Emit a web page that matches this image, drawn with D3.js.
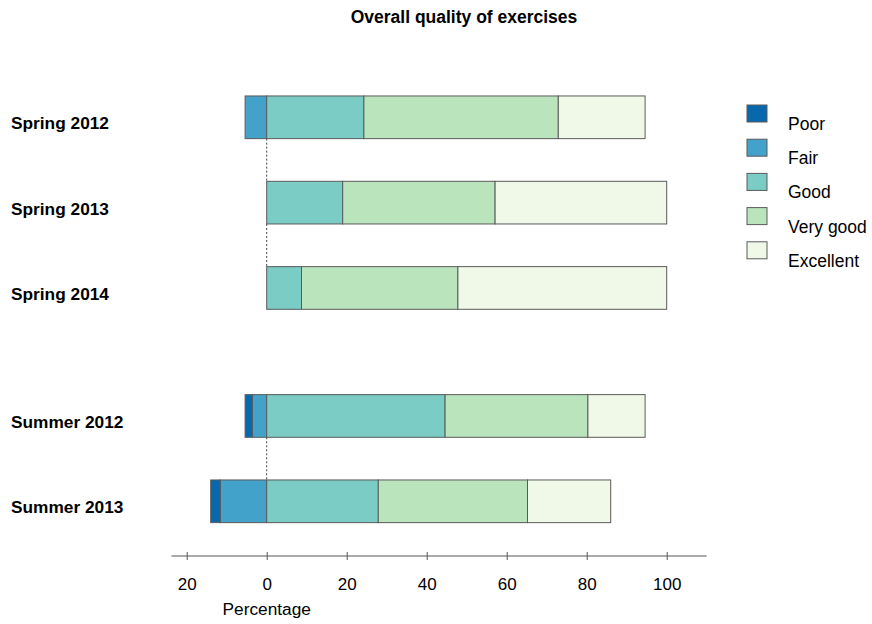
<!DOCTYPE html>
<html>
<head>
<meta charset="utf-8">
<script src="https://cdn.jsdelivr.net/npm/d3@7"></script>
<style>
  html, body { margin: 0; padding: 0; background: #ffffff; }
  svg { display: block; font-family: "Liberation Sans", Arial, Helvetica, sans-serif; }
</style>
</head>
<body>
<svg id="chart" width="872" height="624"></svg>
<script>
// ---- data ----
const categories = ["Spring 2012", "Spring 2013", "Spring 2014", "Summer 2012", "Summer 2013"];
const groups     = ["Spring", "Spring", "Spring", "Summer", "Summer"];
const levels     = ["Poor", "Fair", "Good", "Very good", "Excellent"];
const poor       = [0,    0,    0,    1.8,  2.4];
const fair       = [5.4,  0,    0,    3.6,  11.6];
const good       = [24.3, 19.0, 8.7,  44.6, 27.9];
const veryGood   = [48.6, 38.1, 39.1, 35.7, 37.3];
const excellent  = [21.7, 42.9, 52.2, 14.3, 20.8];
const tickValues = [-20, 0, 20, 40, 60, 80, 100];
const colors     = ["#0868ac", "#43a2ca", "#7bccc4", "#bae4bc", "#f0f9e8"];
const titleText  = "Overall quality of exercises";
const xLabel     = "Percentage";

// ---- layout ----
const svg = d3.select("#chart");
const x = d3.scaleLinear().domain([0, 100]).range([266.7, 666.7]);
const groupNames = Array.from(new Set(groups));
const slots = categories.map((c, i) => i + 0.5 * groupNames.indexOf(groups[i]));
const y = d3.scaleLinear().domain([0, 4.5]).range([117.3, 501.3]);
const barH = (y(1) - y(0)) * 0.5;
const color = d3.scaleOrdinal().domain(levels).range(colors);

// Build segments
const series = [poor, fair, good, veryGood, excellent];
const segs = [];
categories.forEach((c, i) => {
  let neg = 0;
  [1, 0].forEach(k => {
    const v = series[k][i];
    if (v > 0) segs.push({cat: i, level: levels[k], x0: -(neg + v), x1: -neg});
    neg += v;
  });
  let pos = 0;
  [2, 3, 4].forEach(k => {
    const v = series[k][i];
    if (v > 0) segs.push({cat: i, level: levels[k], x0: pos, x1: pos + v});
    pos += v;
  });
});

// dashed zero reference line between bars of the same group
const dashG = svg.append("g");
for (let i = 0; i < categories.length - 1; i++) {
  if (groups[i] === groups[i + 1]) {
    dashG.append("line")
      .attr("x1", x(0)).attr("x2", x(0))
      .attr("y1", y(slots[i]) + barH / 2)
      .attr("y2", y(slots[i + 1]) - barH / 2)
      .attr("stroke", "#444").attr("stroke-width", 1)
      .attr("stroke-dasharray", "2,2");
  }
}

// bars
svg.append("g").selectAll("rect").data(segs).join("rect")
  .attr("x", d => x(d.x0))
  .attr("width", d => x(d.x1) - x(d.x0))
  .attr("y", d => y(slots[d.cat]) - barH / 2)
  .attr("height", barH)
  .attr("fill", d => color(d.level))
  .attr("stroke", "#5a5a5a")
  .attr("stroke-width", 1);

// category labels
svg.append("g").selectAll("text").data(categories).join("text")
  .attr("x", 11)
  .attr("y", (d, i) => y(slots[i]) + 12)
  .attr("font-size", 17.3)
  .attr("font-weight", "bold")
  .attr("fill", "#000")
  .text(d => d);

// x axis
const axisY = 556;
const axis = d3.axisBottom(x).tickValues(tickValues).tickFormat(d => Math.abs(d)).tickSize(0);
const ax = svg.append("g").attr("transform", `translate(0,${axisY})`).call(axis);
ax.select(".domain").remove();
ax.append("line")
  .attr("x1", x(-23.8)).attr("x2", x(110))
  .attr("y1", 0).attr("y2", 0)
  .attr("stroke", "#555").attr("stroke-width", 1);
ax.selectAll(".tick").append("line")
  .attr("y1", -4).attr("y2", 4)
  .attr("stroke", "#555").attr("stroke-width", 1);
ax.selectAll(".tick text")
  .attr("y", 34).attr("dy", null)
  .attr("font-size", 17)
  .attr("font-family", "Liberation Sans, Arial, sans-serif")
  .attr("fill", "#000");

svg.append("text")
  .attr("x", x(0)).attr("y", 615)
  .attr("text-anchor", "middle")
  .attr("font-size", 17.3)
  .attr("fill", "#000")
  .text(xLabel);

// title
svg.append("text")
  .attr("x", 464).attr("y", 23)
  .attr("text-anchor", "middle")
  .attr("font-size", 17.5)
  .attr("font-weight", "bold")
  .attr("fill", "#000")
  .text(titleText);

// legend
const lg = svg.append("g").selectAll("g").data(levels).join("g")
  .attr("transform", (d, i) => `translate(747,${105 + i * 34.2})`);
lg.append("rect")
  .attr("width", 20).attr("height", 17)
  .attr("fill", d => color(d))
  .attr("stroke", "#5a5a5a").attr("stroke-width", 1);
lg.append("text")
  .attr("x", 41).attr("y", 25)
  .attr("font-size", 17.5)
  .attr("fill", "#000")
  .text(d => d);
</script>
</body>
</html>
